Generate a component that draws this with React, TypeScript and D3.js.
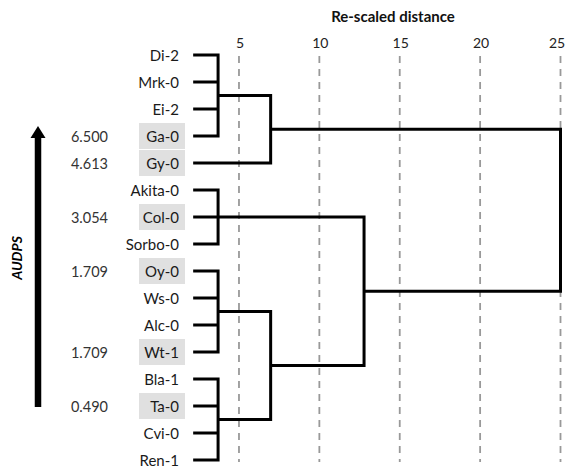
import * as d3 from 'd3';

const W = 566;
const H = 468;

// leaf order top to bottom
const leaves = ['Di-2', 'Mrk-0', 'Ei-2', 'Ga-0', 'Gy-0', 'Akita-0', 'Col-0', 'Sorbo-0', 'Oy-0', 'Ws-0', 'Alc-0', 'Wt-1', 'Bla-1', 'Ta-0', 'Cvi-0', 'Ren-1'];
// AUDPS values shown beside highlighted accessions
const audpsNames = ['Ga-0', 'Gy-0', 'Col-0', 'Oy-0', 'Wt-1', 'Ta-0'];
const audpsValues = ['6.500', '4.613', '3.054', '1.709', '1.709', '0.490'];
// cluster joins (re-scaled distance)
const merges = [
    { id: 'c1', children: ['Di-2', 'Mrk-0', 'Ei-2', 'Ga-0'], dist: 3.7 },
    { id: 'c2', children: ['c1', 'Gy-0'], dist: 6.97 },
    { id: 'c3', children: ['Akita-0', 'Col-0', 'Sorbo-0'], dist: 3.7 },
    { id: 'c4', children: ['Oy-0', 'Ws-0', 'Alc-0', 'Wt-1'], dist: 3.7 },
    { id: 'c5', children: ['Bla-1', 'Ta-0', 'Cvi-0', 'Ren-1'], dist: 3.7 },
    { id: 'c6', children: ['c4', 'c5'], dist: 6.97 },
    { id: 'c7', children: ['c3', 'c6'], dist: 12.78 },
    { id: 'c8', children: ['c2', 'c7'], dist: 25 },
];
const leafDist = 2.15;
const ticks = [5, 10, 15, 20, 25];

const font = 'Lato, "Open Sans", sans-serif';

export default function App() {
    const x = d3.scaleLinear().domain([0, 25]).range([158.6, 560.5]);
    const y = d3.scalePoint<string>().domain(leaves).range([55, 460]);

    // positions of every node
    const pos: Record<string, { x: number; y: number }> = {};
    leaves.forEach(l => { pos[l] = { x: x(leafDist), y: y(l)! }; });
    merges.forEach(m => {
        pos[m.id] = { x: x(m.dist), y: d3.mean(m.children, c => pos[c].y)! };
    });

    const paths: string[] = [];
    merges.forEach(m => {
        const px = x(m.dist);
        const kids = m.children.map(c => pos[c]);
        const first = kids[0];
        const last = kids[kids.length - 1];
        paths.push(`M${first.x},${first.y}H${px}V${last.y}H${last.x}`);
        kids.slice(1, -1).forEach(k => paths.push(`M${k.x},${k.y}H${px}`));
    });

    return (
        <svg width={W} height={H} style={{ position: 'absolute', left: 0, top: 0 }} fontFamily={font}>
            <rect width={W} height={H} fill="#fff" />
            <text x={393} y={22} textAnchor="middle" fontWeight="bold" fontSize={15} fill="#111">Re-scaled distance</text>
            {ticks.map(t => (
                <g key={t}>
                    <text x={Math.min(x(t) + 1, W - 9)} y={48} textAnchor="middle" fontSize={14} fill="#222">{t}</text>
                    <line x1={x(t)} x2={x(t)} y1={56} y2={462} stroke="#999" strokeWidth={1.8} strokeDasharray="7,6" />
                </g>
            ))}
            {audpsNames.map(n => (
                <rect key={n} x={139} y={y(n)! - 13} width={46} height={26} fill="#e0e0e0" />
            ))}
            {leaves.map(l => (
                <text key={l} x={179} y={y(l)} textAnchor="end" dominantBaseline="central" fontSize={15} fill="#1a1a1a">{l}</text>
            ))}
            {audpsNames.map((n, i) => (
                <text key={n} x={108} y={y(n)} textAnchor="end" dominantBaseline="central" fontSize={14.5} fill="#333">{audpsValues[i]}</text>
            ))}
            {paths.map((d, i) => (
                <path key={i} d={d} fill="none" stroke="#000" strokeWidth={3} strokeLinejoin="miter" />
            ))}
            <line x1={38} x2={38} y1={134} y2={407} stroke="#000" strokeWidth={6.5} />
            <path d="M38,126L45.5,138H30.5Z" fill="#000" />
            <text transform="translate(22,258) rotate(-90)" textAnchor="middle" fontWeight="bold" fontStyle="italic" fontSize={14} fill="#000">AUDPS</text>
        </svg>
    );
}
